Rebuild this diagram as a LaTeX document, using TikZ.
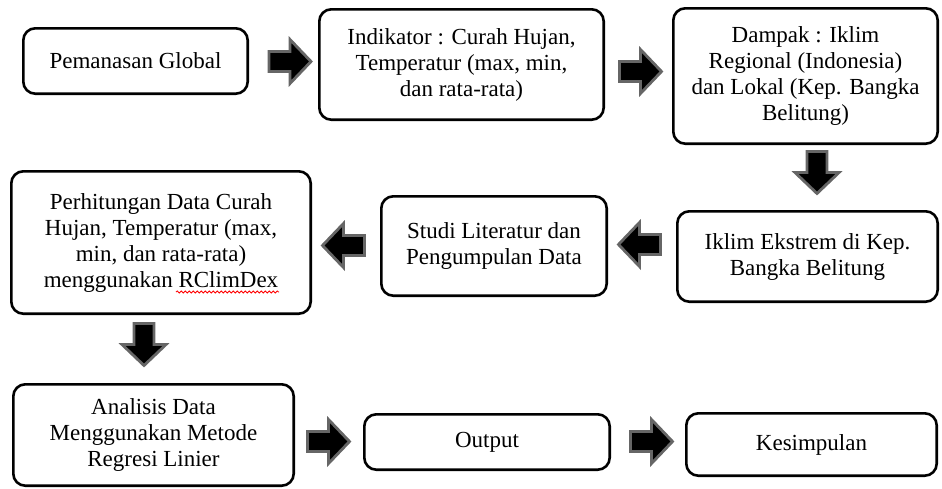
\documentclass[tikz,border=0pt]{standalone}
\usepackage{fontspec}
\setmainfont{Liberation Serif}
\usetikzlibrary{decorations.pathmorphing}
\tikzset{
  x=1pt, y=-1pt,
  box/.style={draw=black, line width=2.6pt, rounded corners=12pt, align=center,
    inner sep=2pt, font=\fontsize{23}{26}\selectfont},
  barrowstyle/.style={fill=black, draw=black!60, line width=2.8pt, line join=miter},
  barrow/.pic={\path[barrowstyle] (-21,-10) -- (0,-10) -- (0,-22) -- (21,0) -- (0,22) -- (0,10) -- (-21,10) -- cycle;},
  spellwave/.style={draw=red, line width=0.8pt, decorate,
    decoration={snake, amplitude=1.1pt, segment length=4pt}}
}
\begin{document}
\begin{tikzpicture}
\useasboundingbox (0,0) rectangle (942,488);
% boxes
\node[box, minimum width=224.4pt, minimum height=65.4pt] (n1) at (135.5,61) {Pemanasan Global};
\node[box, minimum width=284.4pt, minimum height=110.4pt] (n2) at (461.5,64.5) {Indikator : Curah Hujan,\\Temperatur (max, min,\\dan rata-rata)};
\node[box, minimum width=264.4pt, minimum height=135.4pt] (n3) at (805.5,76) {Dampak : Iklim\\Regional (Indonesia)\\dan Lokal (Kep. Bangka\\Belitung)};
\node[box, minimum width=260.4pt, minimum height=90.4pt] (n4) at (807.5,256.5) {Iklim Ekstrem di Kep.\\Bangka Belitung};
\node[box, minimum width=225.4pt, minimum height=99.4pt] (n5) at (494,246) {Studi Literatur dan\\Pengumpulan Data};
\node[box, minimum width=299.4pt, minimum height=142.4pt] (n6) at (161,242.5) {Perhitungan Data Curah\\Hujan, Temperatur (max,\\min, dan rata-rata)\\menggunakan RClimDex};
\node[box, minimum width=280.4pt, minimum height=101.4pt] (n7) at (153.5,435) {Analisis Data\\Menggunakan Metode\\Regresi Linier};
\node[box, minimum width=245.4pt, minimum height=55.4pt] (n8) at (487,442) {Output};
\node[box, minimum width=250.4pt, minimum height=62.4pt] (n9) at (811.5,444.5) {Kesimpulan};
% spell-check underline
\coordinate (w1) at (176,292);
\coordinate (w2) at (279,292);
\draw[spellwave] (w1) -- (w2);
% block arrows
\pic at (290,61.5) {barrow};
\pic at (640.5,71.5) {barrow};
\pic[rotate=-90] at (817,172.5) {barrow};
\pic[rotate=180] at (343.5,245.5) {barrow};
\pic[rotate=180] at (639.5,244.5) {barrow};
\pic[rotate=-90] at (144,344.5) {barrow};
\pic at (328.5,441.5) {barrow};
\pic at (651.5,441.5) {barrow};
\end{tikzpicture}
\end{document}
